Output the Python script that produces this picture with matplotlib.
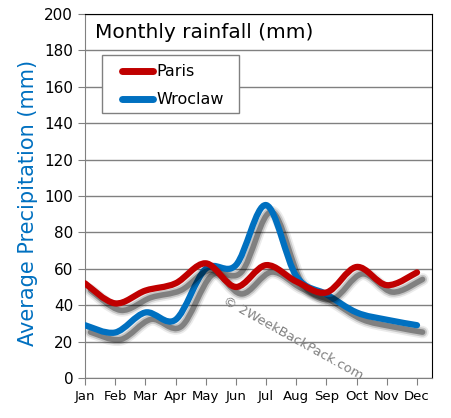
import matplotlib
matplotlib.use("Agg")
import matplotlib.pyplot as plt
from matplotlib.path import Path
from matplotlib.patches import PathPatch, Rectangle
from matplotlib.lines import Line2D
import matplotlib.patheffects as pe

months = ["Jan", "Feb", "Mar", "Apr", "May", "Jun", "Jul", "Aug", "Sep", "Oct", "Nov", "Dec"]
paris = [52, 41, 48, 52, 63, 50, 62, 53, 47, 61, 51, 58]
wroclaw = [29, 25, 36, 32, 60, 62, 95, 56, 46, 36, 32, 29]
series_names = ["Paris", "Wroclaw"]

RED = "#c00000"
BLUE = "#0070c0"


def smooth_path(ys):
    # catmull-rom -> cubic bezier segments through each month value
    pts = list(enumerate(ys))
    verts = [pts[0]]
    codes = [Path.MOVETO]
    n = len(pts)
    for i in range(n - 1):
        p0 = pts[max(i - 1, 0)]
        p1 = pts[i]
        p2 = pts[i + 1]
        p3 = pts[min(i + 2, n - 1)]
        c1 = (p1[0] + (p2[0] - p0[0]) / 6, p1[1] + (p2[1] - p0[1]) / 6)
        c2 = (p2[0] - (p3[0] - p1[0]) / 6, p2[1] - (p3[1] - p1[1]) / 6)
        verts += [c1, c2, p2]
        codes += [Path.CURVE4] * 3
    return Path(verts, codes)


fig = plt.figure(figsize=(4.52, 4.18), dpi=100)
ax = fig.add_axes([0.188, 0.0957, 0.768, 0.871])

shadow = [pe.SimpleLineShadow(offset=(4, -5), shadow_color="k", alpha=a, linewidth=lw)
          for a, lw in [(0.08, 9), (0.16, 6.5), (0.35, 4)]]

for ys, col in [(wroclaw, BLUE), (paris, RED)]:
    patch = PathPatch(smooth_path(ys), fill=False, edgecolor=col, linewidth=4.5,
                      capstyle="round", joinstyle="round", zorder=3)
    patch.set_path_effects(shadow + [pe.Normal()])
    ax.add_patch(patch)

ax.set_xlim(0, 11.5)
ax.set_ylim(0, 200)
ax.set_xticks(range(12))
ax.set_xticklabels(months, fontsize=9.5)
ax.set_yticks(range(0, 201, 20))
ax.tick_params(axis="y", labelsize=11, length=5, color="gray")
ax.tick_params(axis="x", length=5, color="gray")
ax.yaxis.grid(True, color="gray", linewidth=1)
ax.set_axisbelow(True)
for s in ["left", "bottom"]:
    ax.spines[s].set_color("gray")
for s in ["top", "right"]:
    ax.spines[s].set_color("black")

ax.set_ylabel("Average Precipitation (mm)", color=BLUE, fontsize=15)
ax.yaxis.set_label_coords(-0.135, 0.48)

ax.text(0.03, 0.975, "Monthly rainfall (mm)", transform=ax.transAxes,
        fontsize=14.5, va="top", ha="left",
        bbox=dict(facecolor="white", edgecolor="none", pad=1))

# legend box drawn by hand to match the original's spacing
ax.add_patch(Rectangle((0.049, 0.728), 0.395, 0.159, transform=ax.transAxes,
                       facecolor="white", edgecolor="gray", lw=1, zorder=5))
for name, col, yy in zip(series_names, [RED, BLUE], [0.843, 0.766]):
    ax.add_line(Line2D([0.107, 0.196], [yy, yy], transform=ax.transAxes, color=col,
                       lw=5, solid_capstyle="round", zorder=6))
    ax.text(0.207, yy, name, transform=ax.transAxes, fontsize=11.5,
            va="center", ha="left", zorder=6)

ax.text(0.6, 0.11, "© 2WeekBackPack.com", transform=ax.transAxes, rotation=-29,
        fontsize=9.5, color="gray", ha="center", va="center", zorder=4)

fig.savefig("out.png", dpi=100)
